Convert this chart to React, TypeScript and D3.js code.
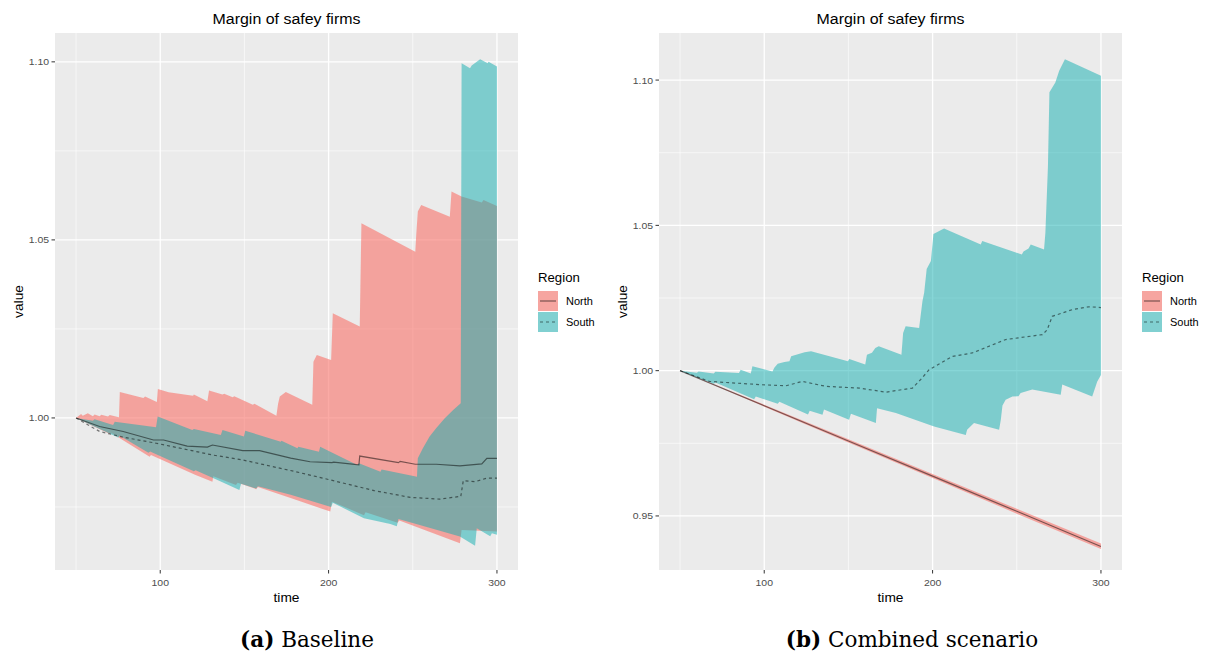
import * as d3 from "d3";

type Pt = [number, number];

// ---- (a) Baseline: ribbon bounds and means per region, [time, value]
const baseNorthHi: Pt[] = [
  [50, 1.0], [53, 1.0011], [54, 1.0006], [57, 1.0013], [60, 1.0005], [61, 1.001],
  [64, 1.0005], [65, 1.0009], [69, 1.0004], [70, 1.0008], [75.5, 1.0002], [76, 1.0073],
  [90, 1.0056], [91, 1.006], [98, 1.0045], [98.6, 1.0081], [105, 1.0072], [119.5, 1.0062],
  [120, 1.0066], [128, 1.0047], [129, 1.0077], [137, 1.0066], [138, 1.0068], [143, 1.0058],
  [144, 1.0061], [155, 1.0037], [156, 1.004], [169, 1.0006], [170, 1.004], [171, 1.006],
  [174.6, 1.0073], [190.3, 1.0037], [191, 1.0158], [193, 1.0177], [201.5, 1.0163],
  [202.5, 1.0294], [218.5, 1.0257], [219.5, 1.0547], [251.5, 1.0467], [252, 1.051],
  [253, 1.058], [255, 1.0598], [272, 1.0565], [273, 1.0636], [279, 1.0622], [291, 1.0605],
  [292, 1.0612], [300, 1.0595],
];
const baseNorthLo: Pt[] = [
  [50, 1.0], [70, 0.9955], [71, 0.9958], [93.7, 0.9891], [94.5, 0.9896], [121, 0.984],
  [131, 0.9821], [131.5, 0.9836], [145, 0.9812], [146, 0.9818], [157, 0.98], [158, 0.9806],
  [180.5, 0.977], [201, 0.9737], [202, 0.9765], [221, 0.9727], [222, 0.9735], [241, 0.9706],
  [242, 0.9712], [278, 0.9648], [279, 0.9685], [300, 0.9681],
];
const baseSouthHi: Pt[] = [
  [50, 1.0], [60, 0.9992], [61, 0.9996], [72, 0.998], [73, 0.9989], [97.5, 0.9974],
  [98.5, 1.0004], [119, 0.9966], [120, 0.9969], [136, 0.9952], [137, 0.9966], [149.7, 0.9948],
  [150.5, 0.9964], [171.6, 0.9933], [172, 0.9936], [181.5, 0.9915], [182, 0.9919],
  [194.3, 0.9905], [195, 0.9919], [217, 0.9868], [218, 0.9873], [230.8, 0.9849],
  [231.5, 0.9855], [252.5, 0.9835], [253, 0.9887], [256, 0.9915], [260, 0.9948],
  [264, 0.9972], [269, 0.9999], [274, 1.0022], [278.5, 1.0041], [279, 1.0996],
  [284, 1.0982], [285, 1.099], [290, 1.1007], [294.5, 1.0996], [295, 1.1], [300, 1.0987],
];
const baseSouthLo: Pt[] = [
  [50, 1.0], [75, 0.9945], [76, 0.995], [93, 0.9902], [94, 0.9906], [120, 0.985],
  [121, 0.9853], [133, 0.9828], [147, 0.9798], [148, 0.9815], [157, 0.9802], [158, 0.9808],
  [177.5, 0.9784], [201.5, 0.975], [202.5, 0.9762], [221, 0.9718], [236.7, 0.9702],
  [240.5, 0.9696], [241.5, 0.9716], [250.5, 0.9704], [278, 0.9667], [287, 0.9641],
  [288, 0.969], [296, 0.9668], [297, 0.9676], [300, 0.9672],
];
const baseNorthMean: Pt[] = [
  [50, 1.0], [64, 0.9976], [78, 0.9962], [96, 0.9938], [102, 0.9938], [116, 0.9921],
  [128, 0.9918], [131, 0.9924], [149, 0.9908], [159, 0.9908], [177.5, 0.9887], [189, 0.9877],
  [202, 0.98745], [203, 0.9876], [218, 0.9868], [218.5, 0.9893], [241.5, 0.98745],
  [242.5, 0.9878], [251.5, 0.987], [264, 0.987], [278, 0.98652], [291, 0.9871],
  [294, 0.98867], [300, 0.98867],
];
const baseSouthMean: Pt[] = [
  [50, 1.0], [64, 0.9962], [78, 0.9946], [97.6, 0.9929], [117, 0.991], [131, 0.9896],
  [149, 0.9882], [180.5, 0.9849], [201, 0.9826], [227, 0.9796], [248.5, 0.9777],
  [266, 0.9772], [277, 0.9779], [278.5, 0.9779], [280, 0.9824], [287, 0.9821],
  [294, 0.9831], [300, 0.9831],
];

// ---- (b) Combined scenario
const combNorthHi: Pt[] = [[50, 1.0], [100, 0.9883], [150, 0.9764], [200, 0.9644], [250, 0.9525], [300, 0.9405]];
const combNorthLo: Pt[] = [[50, 1.0], [100, 0.9876], [150, 0.9753], [200, 0.9631], [250, 0.9508], [300, 0.9386]];
const combNorthMean: Pt[] = [[50, 1.0], [100, 0.9879], [150, 0.9758], [200, 0.9637], [250, 0.9516], [300, 0.9395]];
const combSouthHi: Pt[] = [
  [50, 1.0], [60, 0.9993], [61, 0.9997], [70, 0.999], [71, 0.9996], [85, 0.9992],
  [86, 1.0003], [92, 0.999], [93, 1.0015], [104.9, 0.9997], [106, 1.001], [108, 1.0024],
  [112, 1.003], [115, 1.0032], [116, 1.005], [124, 1.0063], [127.8, 1.0067], [149.7, 1.0032],
  [150.5, 1.004], [160, 1.0021], [161, 1.0055], [164, 1.0062], [166, 1.0078], [168, 1.0084],
  [181.5, 1.0055], [182.5, 1.013], [184, 1.0153], [192, 1.0147], [194, 1.024], [195, 1.0268],
  [196.5, 1.035], [199, 1.0377], [200.5, 1.047], [206.8, 1.0489], [228.6, 1.0434],
  [229.5, 1.0446], [253, 1.04], [254, 1.041], [257, 1.042], [258.3, 1.0434], [266.2, 1.0417],
  [267, 1.0475], [268.5, 1.07], [269.4, 1.0958], [272.9, 1.0992], [275.2, 1.1032],
  [278.6, 1.1072], [300, 1.1015],
];
const combSouthLo: Pt[] = [
  [50, 1.0], [70, 0.9955], [71, 0.9959], [94, 0.9902], [95, 0.9911], [108, 0.9886],
  [109, 0.9893], [126, 0.9849], [127, 0.9862], [134.6, 0.9848], [135.5, 0.9866],
  [150.4, 0.9831], [151.5, 0.9852], [166.3, 0.982], [167, 0.9871], [178.2, 0.9854],
  [200.9, 0.9808], [219.7, 0.9779], [220.5, 0.9797], [222, 0.9805], [224.6, 0.982],
  [239.5, 0.9797], [240.5, 0.983], [241.5, 0.988], [243.4, 0.99], [247.4, 0.9911],
  [251, 0.9912], [252.3, 0.9923], [259.2, 0.9935], [276.1, 0.9917], [277, 0.9952],
  [294.8, 0.9911], [297.8, 0.9963], [300, 0.9985],
];
const combSouthMean: Pt[] = [
  [50, 1.0], [67.4, 0.9963], [97, 0.9952], [112.9, 0.9948], [122.7, 0.9963], [136.6, 0.9946],
  [156.4, 0.994], [172.2, 0.9926], [188, 0.994], [193, 0.997], [197.9, 1.0003],
  [211.8, 1.0049], [223.6, 1.0061], [243.4, 1.0107], [265.2, 1.0124], [268, 1.014],
  [271.1, 1.0187], [283, 1.021], [292.9, 1.022], [300, 1.0217],
];

const timeTicks = [100, 200, 300];
const timeMinor = [50, 150, 250];
const baseValueTicks = [1.0, 1.05, 1.1];
const combValueTicks = [0.95, 1.0, 1.05, 1.1];
const valueMinor = [0.925, 0.975, 1.025, 1.075];
const regions = ["North", "South"];
const regionFill = ["#F8766D", "#0FADAF"];
const regionOpacity = [0.62, 0.5];
const regionDash = [null, "3,3"];

const FONT = "'Liberation Sans', Arial, Helvetica, sans-serif";
const SX = 1.1;

function Label({ x, y, size, anchor = "middle", rotate = 0, fill = "#000", children }: any) {
  return (
    <text
      transform={`translate(${x},${y}) rotate(${rotate}) scale(${SX},1)`}
      fontSize={size}
      fontFamily={FONT}
      textAnchor={anchor}
      fill={fill}
    >
      {children}
    </text>
  );
}

interface Series {
  hi: Pt[];
  lo: Pt[];
  mean: Pt[];
}

function Panel({ left, right, top, bottom, yDomain, yTicks, series }: any) {
  const x = d3.scaleLinear().domain([37.5, 312.5]).range([left, right]);
  const y = d3.scaleLinear().domain(yDomain).range([bottom, top]);
  const line = d3.line<Pt>().x((d) => x(d[0])).y((d) => y(d[1]));
  const ribbon = (s: Series) => line([...s.hi, ...s.lo.slice().reverse()]) + "Z";
  const minor = valueMinor.filter((v) => v > yDomain[0] && v < yDomain[1]);
  const legendX = right + 20;

  return (
    <g>
      <Label x={(left + right) / 2} y={24} size={14.5}>Margin of safey firms</Label>
      <rect x={left} y={top} width={right - left} height={bottom - top} fill="#EBEBEB" />
      {minor.map((v) => (
        <line key={"ym" + v} x1={left} x2={right} y1={y(v)} y2={y(v)} stroke="#fff" strokeWidth={0.6} />
      ))}
      {timeMinor.map((t) => (
        <line key={"xm" + t} x1={x(t)} x2={x(t)} y1={top} y2={bottom} stroke="#fff" strokeWidth={0.6} />
      ))}
      {yTicks.map((v: number) => (
        <line key={"y" + v} x1={left} x2={right} y1={y(v)} y2={y(v)} stroke="#fff" strokeWidth={1.3} />
      ))}
      {timeTicks.map((t) => (
        <line key={"x" + t} x1={x(t)} x2={x(t)} y1={top} y2={bottom} stroke="#fff" strokeWidth={1.3} />
      ))}

      {series.map((s: Series, i: number) => (
        <path key={"r" + i} d={ribbon(s)} fill={regionFill[i]} fillOpacity={regionOpacity[i]} />
      ))}
      {series.map((s: Series, i: number) => (
        <path
          key={"l" + i}
          d={line(s.mean) ?? ""}
          fill="none"
          stroke="#000"
          strokeOpacity={0.5}
          strokeWidth={1.2}
          strokeDasharray={regionDash[i] ?? undefined}
        />
      ))}

      {/* axes */}
      {yTicks.map((v: number) => (
        <g key={"yt" + v}>
          <line x1={left - 3.5} x2={left} y1={y(v)} y2={y(v)} stroke="#333" strokeWidth={1} />
          <Label x={left - 6} y={y(v) + 3.5} size={9.5} anchor="end" fill="#4D4D4D">
            {d3.format(".2f")(v)}
          </Label>
        </g>
      ))}
      {timeTicks.map((t) => (
        <g key={"xt" + t}>
          <line x1={x(t)} x2={x(t)} y1={bottom} y2={bottom + 3.5} stroke="#333" strokeWidth={1} />
          <Label x={x(t)} y={bottom + 16} size={9.5} fill="#4D4D4D">{t}</Label>
        </g>
      ))}
      <Label x={(left + right) / 2} y={602} size={12.5}>time</Label>
      <Label x={left - 32} y={(top + bottom) / 2} size={12.5} rotate={-90}>value</Label>

      {/* legend */}
      <Label x={legendX} y={282} size={12} anchor="start">Region</Label>
      {regions.map((r, i) => {
        const ky = 291 + i * 21;
        return (
          <g key={r}>
            <rect x={legendX} y={ky} width={20} height={20} fill="#F2F2F2" />
            <rect x={legendX} y={ky} width={20} height={20} fill={regionFill[i]} fillOpacity={regionOpacity[i]} />
            <line
              x1={legendX + 2}
              x2={legendX + 18}
              y1={ky + 10}
              y2={ky + 10}
              stroke="#000"
              strokeOpacity={0.5}
              strokeWidth={1.2}
              strokeDasharray={regionDash[i] ?? undefined}
            />
            <Label x={legendX + 28} y={ky + 14} size={10} anchor="start">{r}</Label>
          </g>
        );
      })}
    </g>
  );
}

export default function App() {
  const baseSeries: Series[] = [
    { hi: baseNorthHi, lo: baseNorthLo, mean: baseNorthMean },
    { hi: baseSouthHi, lo: baseSouthLo, mean: baseSouthMean },
  ];
  const combSeries: Series[] = [
    { hi: combNorthHi, lo: combNorthLo, mean: combNorthMean },
    { hi: combSouthHi, lo: combSouthLo, mean: combSouthMean },
  ];
  return (
    <svg
      width={1209}
      height={657}
      style={{ position: "absolute", left: 0, top: 0, background: "#fff" }}
    >
      <Panel left={55} right={518} top={33} bottom={570} yDomain={[0.9573, 1.1081]} yTicks={baseValueTicks} series={baseSeries} />
      <Panel left={659} right={1122} top={33} bottom={570} yDomain={[0.9314, 1.1162]} yTicks={combValueTicks} series={combSeries} />

      <text x={307} y={647} fontSize={21.5} fontFamily="'DejaVu Serif', serif" textAnchor="middle">
        <tspan fontWeight="bold">(a)</tspan> Baseline
      </text>
      <text x={912} y={647} fontSize={21.5} fontFamily="'DejaVu Serif', serif" textAnchor="middle">
        <tspan fontWeight="bold">(b)</tspan> Combined scenario
      </text>
    </svg>
  );
}
